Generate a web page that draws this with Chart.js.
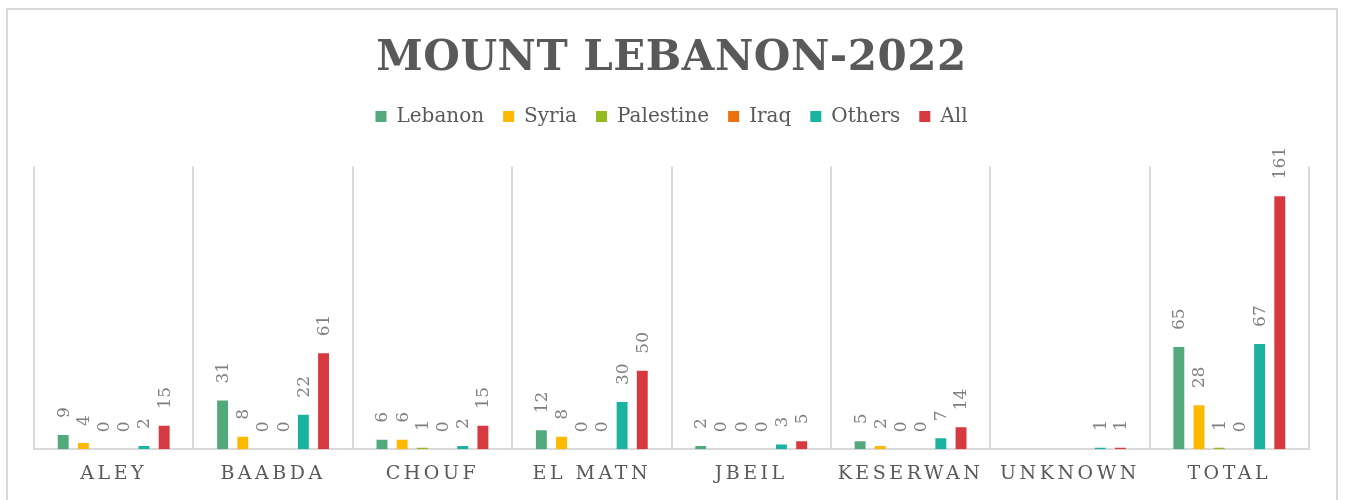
<!DOCTYPE html>
<html>
<head>
<meta charset="utf-8">
<script src="https://cdn.jsdelivr.net/npm/chart.js@4.4.0/dist/chart.umd.min.js"></script>
<style>
  html, body { margin: 0; padding: 0; background: #fff; }
  #wrap { position: relative; width: 1346px; height: 500px; overflow: hidden; }
  #frame { position: absolute; left: 6px; top: 8px; width: 1332px; height: 520px; border: 2px solid #dadada; box-sizing: border-box; pointer-events: none; }
</style>
</head>
<body>
<div id="wrap">
  <canvas id="chart" width="1346" height="500"></canvas>
  <div id="frame"></div>
</div>
<script>
// data
const districts = ['ALEY', 'BAABDA', 'CHOUF', 'EL MATN', 'JBEIL', 'KESERWAN', 'UNKNOWN', 'TOTAL'];
const lebanon = [9, 31, 6, 12, 2, 5, null, 65];
const syria = [4, 8, 6, 8, 0, 2, null, 28];
const palestine = [0, 0, 1, 0, 0, 0, null, 1];
const iraq = [0, 0, 0, 0, 0, 0, null, 0];
const others = [2, 22, 2, 30, 3, 7, 1, 67];
const all = [15, 61, 15, 50, 5, 14, 1, 161];

const serif = '"DejaVu Serif", Georgia, serif';
const textGrey = '#595959';

// extra room under the legend + letter spacing for title and axis labels
const spacing = {
    id: 'spacing',
    afterInit(chart) {
        const legend = chart.legend;
        if (legend) {
            const origFit = legend.fit.bind(legend);
            legend.fit = function () {
                origFit();
                this.height += 30;
            };
        }
    },
    beforeDraw(chart) {
        const ctx = chart.ctx;
        const title = chart.titleBlock;
        if (title && !title._spaced) {
            const orig = title.draw.bind(title);
            title.draw = function () {
                ctx.save();
                ctx.letterSpacing = '0.5px';
                orig();
                ctx.restore();
            };
            title._spaced = true;
        }
        const x = chart.scales.x;
        if (x && !x._spaced) {
            const origLabels = x.drawLabels.bind(x);
            x.drawLabels = function (area) {
                ctx.save();
                ctx.letterSpacing = '3.5px';
                origLabels(area);
                ctx.restore();
            };
            x._spaced = true;
        }
    }
};

// rotated value labels above each bar
const valueLabels = {
    id: 'valueLabels',
    afterDatasetsDraw(chart) {
        const ctx = chart.ctx;
        ctx.save();
        ctx.font = '17px ' + serif;
        ctx.fillStyle = '#7f7f7f';
        ctx.textAlign = 'left';
        ctx.textBaseline = 'middle';
        chart.data.datasets.forEach((ds, i) => {
            chart.getDatasetMeta(i).data.forEach((bar, j) => {
                const v = ds.data[j];
                if (v === null) return;
                ctx.save();
                ctx.translate(bar.x + 1, bar.y - 17);
                ctx.rotate(-Math.PI / 2);
                ctx.fillText(String(v), 0, 0);
                ctx.restore();
            });
        });
        ctx.restore();
    }
};

function series(label, data, color) {
    return {
        label: label,
        data: data,
        backgroundColor: color,
        borderWidth: 0,
        categoryPercentage: 0.76,
        barPercentage: 0.54
    };
}

new Chart(document.getElementById('chart'), {
    type: 'bar',
    data: {
        labels: districts,
        datasets: [
            series('Lebanon', lebanon, '#52aa7c'),
            series('Syria', syria, '#fdb900'),
            series('Palestine', palestine, '#93ba1f'),
            series('Iraq', iraq, '#ec700e'),
            series('Others', others, '#1ab39f'),
            series('All', all, '#d6393f')
        ]
    },
    options: {
        responsive: false,
        animation: false,
        layout: {
            padding: { top: 10, left: 34, right: 37, bottom: 2 }
        },
        plugins: {
            title: {
                display: true,
                text: 'MOUNT LEBANON-2022',
                color: textGrey,
                font: { family: serif, size: 42, weight: 'bold', lineHeight: 1.2 },
                padding: { top: 24, bottom: 3 }
            },
            legend: {
                display: true,
                position: 'top',
                labels: {
                    color: textGrey,
                    font: { family: serif, size: 20 },
                    boxWidth: 11,
                    boxHeight: 11,
                    padding: 19
                }
            },
            tooltip: { enabled: false }
        },
        scales: {
            x: {
                grid: { color: '#d9d9d9', lineWidth: 2, drawTicks: false },
                border: { color: '#d9d9d9', width: 2 },
                ticks: {
                    color: textGrey,
                    font: { family: serif, size: 19 },
                    padding: 13
                }
            },
            y: {
                display: false,
                min: 0,
                max: 180
            }
        }
    },
    plugins: [spacing, valueLabels]
});
</script>
</body>
</html>
